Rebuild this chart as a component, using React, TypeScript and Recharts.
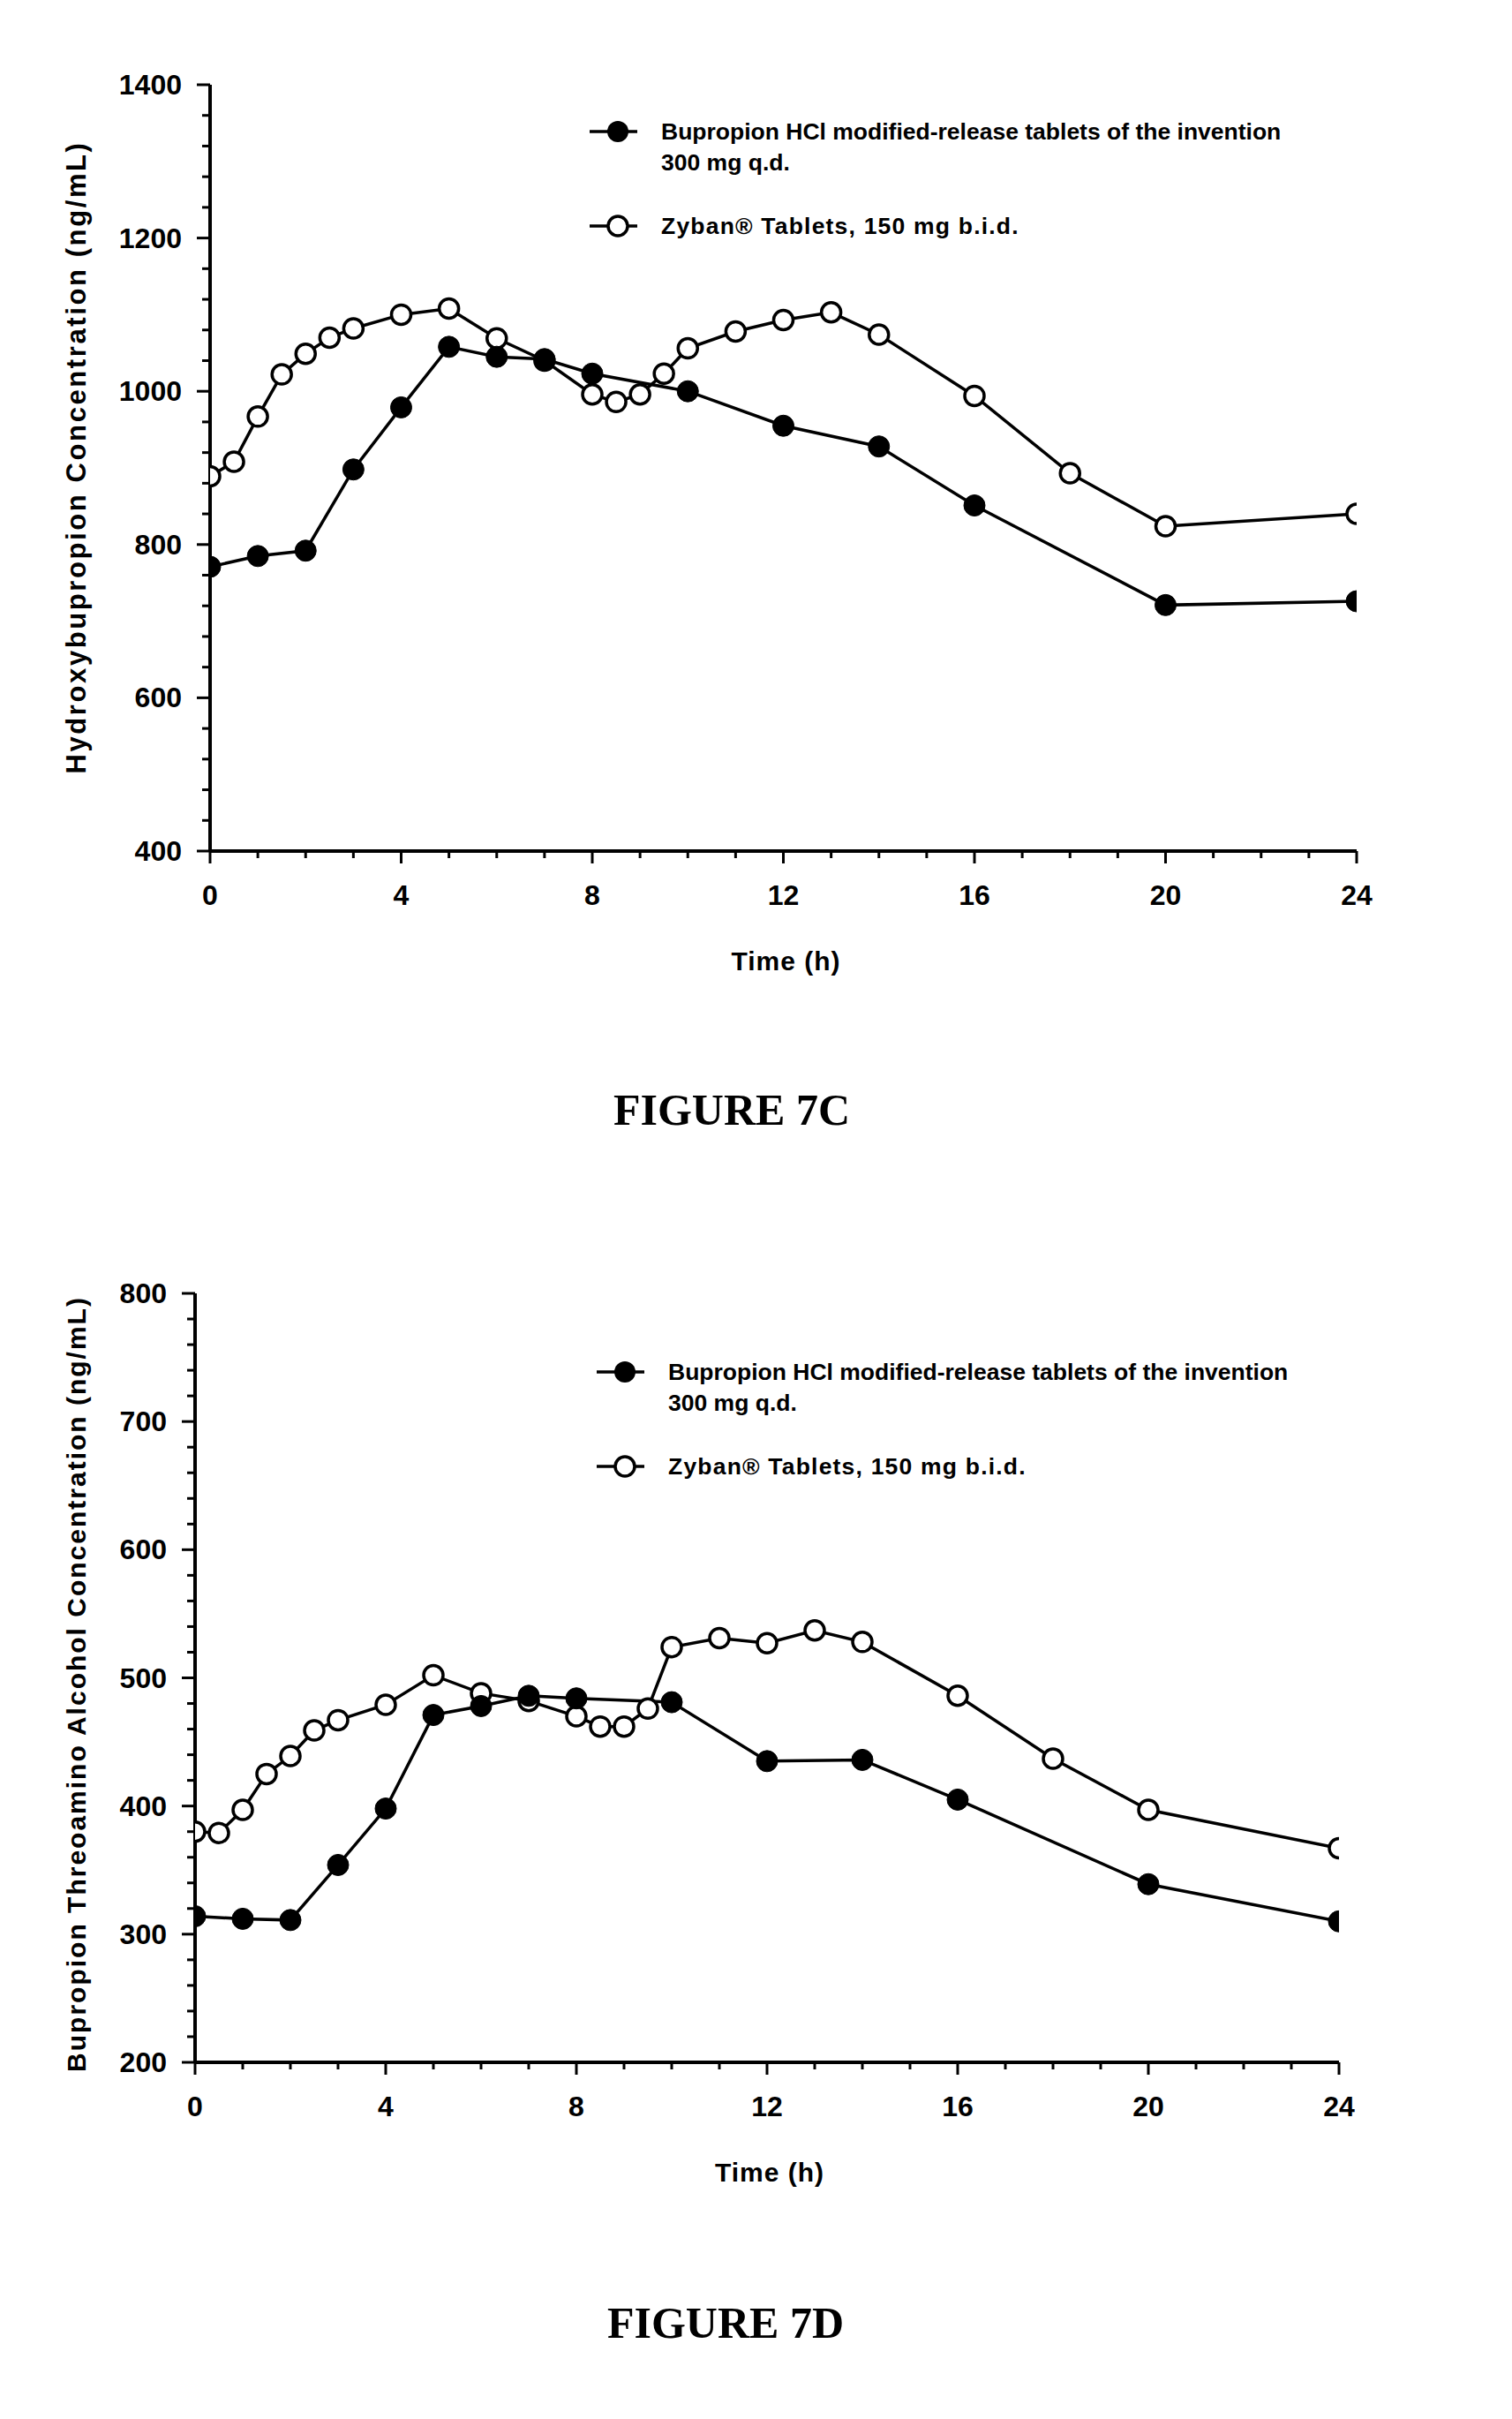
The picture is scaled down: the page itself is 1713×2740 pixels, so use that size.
import React from 'react';
import { LineChart, Line, XAxis, YAxis, Legend } from 'recharts';

// ---------- data ----------
const timesBupropion = [0, 1, 2, 3, 4, 5, 6, 7, 8, 10, 12, 14, 16, 20, 24];
const timesZyban = [0, 0.5, 1, 1.5, 2, 2.5, 3, 4, 5, 6, 7, 8, 8.5, 9, 9.5, 10, 11, 12, 13, 14, 16, 18, 20, 24];

// Figure 7C – Hydroxybupropion (ng/mL)
const hydroxyBupropion = [771, 785, 792, 898, 979, 1058, 1045, 1042, 1023, 1000, 955, 928, 851, 721, 726];
const hydroxyZyban = [889, 908, 967, 1022, 1049, 1070, 1082, 1100, 1108, 1069, 1040, 996, 986, 996, 1023, 1056, 1078, 1093, 1103, 1074, 994, 893, 824, 840];

// Figure 7D – Threoamino alcohol (ng/mL)
const threoBupropion = [314, 312, 311, 354, 398, 471, 478, 486, 484, 481, 435, 436, 405, 339, 310];
const threoZyban = [380, 379, 397, 425, 439, 459, 467, 479, 502, 488, 482, 470, 462, 462, 476, 524, 531, 527, 537, 528, 486, 437, 397, 367];

// ticks
const xMajorTicks = [0, 4, 8, 12, 16, 20, 24];
const yMajorTicks7C = [400, 600, 800, 1000, 1200, 1400];
const yMajorTicks7D = [200, 300, 400, 500, 600, 700, 800];

const legendLabels = {
  bup1: 'Bupropion HCl modified-release tablets of the invention',
  bup2: '300 mg q.d.',
  zyb: 'Zyban\u00ae Tablets, 150 mg b.i.d.',
};

// ---------- helpers ----------
const range = (start: number, end: number, step: number) => {
  const out: number[] = [];
  for (let v = start; v <= end + 1e-9; v += step) out.push(Math.round(v * 1000) / 1000);
  return out;
};
const rows = (times: number[], values: number[]) => times.map((t, i) => ({ t, v: values[i] }));

const FONT = '"Liberation Sans", Arial, Helvetica, sans-serif';
const SERIF = '"Liberation Serif", "Times New Roman", Times, serif';

const makeYTick = (majors: number[]) => (props: any) => {
  const { x, y, payload } = props;
  const major = majors.includes(payload.value);
  return (
    <g>
      <line x1={x - (major ? 15 : 9)} x2={x} y1={y} y2={y} stroke="#000" strokeWidth={3} />
      {major && (
        <text x={x - 32} y={y} textAnchor="end" dominantBaseline="central" fontFamily={FONT} fontWeight="bold" fontSize={32} fill="#000">
          {payload.value}
        </text>
      )}
    </g>
  );
};

const XTick = (props: any) => {
  const { x, y, payload } = props;
  const major = xMajorTicks.includes(payload.value);
  return (
    <g>
      <line x1={x} x2={x} y1={y} y2={y + (major ? 14 : 8)} stroke="#000" strokeWidth={3} />
      {major && (
        <text x={x} y={y + 50} textAnchor="middle" dominantBaseline="central" fontFamily={FONT} fontWeight="bold" fontSize={32} fill="#000">
          {payload.value}
        </text>
      )}
    </g>
  );
};

const LegendBox = () => (
  <svg width={900} height={160} style={{ display: 'block' }}>
    <line x1={18} x2={72} y1={29} y2={29} stroke="#000" strokeWidth={3.5} />
    <circle cx={50} cy={29} r={12} fill="#000" />
    <text x={99} y={29} dominantBaseline="central" fontFamily={FONT} fontWeight="bold" fontSize={26.5} fill="#000">{legendLabels.bup1}</text>
    <text x={99} y={64} dominantBaseline="central" fontFamily={FONT} fontWeight="bold" fontSize={26.5} fill="#000">{legendLabels.bup2}</text>
    <line x1={18} x2={72} y1={136} y2={136} stroke="#000" strokeWidth={3.5} />
    <circle cx={50} cy={136} r={11} fill="#fff" stroke="#000" strokeWidth={3.5} />
    <text x={99} y={136} dominantBaseline="central" fontFamily={FONT} fontWeight="bold" fontSize={26.5} letterSpacing={1.2} fill="#000">{legendLabels.zyb}</text>
  </svg>
);

type Plot = { left: number; top: number; right: number; bottom: number };

function PKChart(props: {
  pageTop: number;
  height: number;
  plot: Plot;
  yDomain: [number, number];
  yMajors: number[];
  yMinorStep: number;
  bup: { t: number; v: number }[];
  zyb: { t: number; v: number }[];
  yLabel: string;
  yLabelDy: number;
  yLabelSize: number;
  yLabelSpacing: number;
  legendLeft: number;
  legendTop: number;
}) {
  const { pageTop, height, plot, yDomain, yMajors, yMinorStep, bup, zyb, yLabel, yLabelDy, yLabelSize, yLabelSpacing, legendLeft, legendTop } = props;
  const W = 1713;
  const xAxisH = 80;
  const margin = { top: plot.top - pageTop, left: 0, right: W - plot.right, bottom: pageTop + height - plot.bottom - xAxisH };
  const yTicks = range(yDomain[0], yDomain[1], yMinorStep);
  const xTicks = range(0, 24, 1);
  const plotCy = (plot.top + plot.bottom) / 2 - pageTop + yLabelDy;
  const plotCx = (plot.left + plot.right) / 2;
  const xAxisY = plot.bottom - pageTop;
  return (
    <div style={{ position: 'absolute', left: 0, top: pageTop }}>
      <LineChart width={W} height={height} margin={margin}>
        <XAxis
          dataKey="t"
          type="number"
          domain={[0, 24]}
          ticks={xTicks}
          interval={0}
          tickSize={0}
          tickMargin={0}
          tickLine={false}
          tick={XTick}
          height={xAxisH}
          axisLine={{ stroke: '#000', strokeWidth: 4 }}
          allowDataOverflow
          label={{
            content: () => (
              <text x={plotCx + 3} y={xAxisY + 124} textAnchor="middle" dominantBaseline="central" fontFamily={FONT} fontWeight="bold" fontSize={30} letterSpacing={1} fill="#000">
                Time (h)
              </text>
            ),
          }}
        />
        <YAxis
          type="number"
          domain={yDomain}
          ticks={yTicks}
          interval={0}
          tickSize={0}
          tickMargin={0}
          tickLine={false}
          tick={makeYTick(yMajors)}
          width={plot.left}
          axisLine={{ stroke: '#000', strokeWidth: 4 }}
          allowDataOverflow
          label={{
            content: () => (
              <text
                x={86}
                y={plotCy}
                transform={`rotate(-90, 86, ${plotCy})`}
                textAnchor="middle"
                dominantBaseline="central"
                fontFamily={FONT}
                fontWeight="bold"
                fontSize={yLabelSize}
                letterSpacing={yLabelSpacing}
                fill="#000"
              >
                {yLabel}
              </text>
            ),
          }}
        />
        <Legend
          layout="horizontal"
          verticalAlign="middle"
          align="center"
          content={() => <LegendBox />}
          wrapperStyle={{ left: legendLeft, top: legendTop, width: 900, height: 160 }}
        />
        <Line
          data={zyb}
          dataKey="v"
          type="linear"
          stroke="#000"
          strokeWidth={3.5}
          dot={{ r: 11, fill: '#fff', stroke: '#000', strokeWidth: 3.5 }}
          activeDot={false}
          isAnimationActive={false}
        />
        <Line
          data={bup}
          dataKey="v"
          type="linear"
          stroke="#000"
          strokeWidth={3.5}
          dot={{ r: 12, fill: '#000', stroke: '#000', strokeWidth: 1 }}
          activeDot={false}
          isAnimationActive={false}
        />
      </LineChart>
    </div>
  );
}

export default function App() {
  return (
    <div style={{ position: 'absolute', left: 0, top: 0, width: 1713, height: 2740, background: '#fff', overflow: 'hidden' }}>
      <PKChart
        pageTop={0}
        height={1180}
        plot={{ left: 238, top: 96, right: 1537, bottom: 964 }}
        yDomain={[400, 1400]}
        yMajors={yMajorTicks7C}
        yMinorStep={40}
        bup={rows(timesBupropion, hydroxyBupropion)}
        zyb={rows(timesZyban, hydroxyZyban)}
        yLabel="Hydroxybupropion Concentration (ng/mL)"
        yLabelDy={-12}
        yLabelSize={31}
        yLabelSpacing={2.6}
        legendLeft={650}
        legendTop={120}
      />
      <div style={{ position: 'absolute', left: 629, width: 400, top: 1227, lineHeight: '60px', textAlign: 'center', fontFamily: SERIF, fontWeight: 'bold', fontSize: 50, color: '#000' }}>
        FIGURE 7C
      </div>
      <PKChart
        pageTop={1380}
        height={1200}
        plot={{ left: 221, top: 1465, right: 1517, bottom: 2336 }}
        yDomain={[200, 800]}
        yMajors={yMajorTicks7D}
        yMinorStep={20}
        bup={rows(timesBupropion, threoBupropion)}
        zyb={rows(timesZyban, threoZyban)}
        yLabel="Bupropion Threoamino Alcohol Concentration (ng/mL)"
        yLabelDy={7}
        yLabelSize={30}
        yLabelSpacing={2}
        legendLeft={658}
        legendTop={145}
      />
      <div style={{ position: 'absolute', left: 622, width: 400, top: 2601, lineHeight: '60px', textAlign: 'center', fontFamily: SERIF, fontWeight: 'bold', fontSize: 50, color: '#000' }}>
        FIGURE 7D
      </div>
    </div>
  );
}
